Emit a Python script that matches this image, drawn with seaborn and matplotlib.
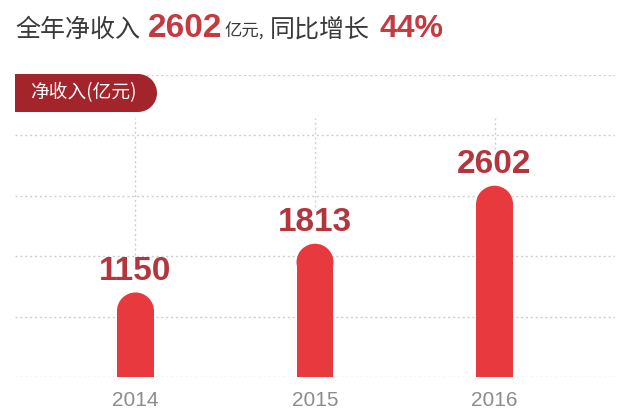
import numpy as np
import matplotlib
matplotlib.use("Agg")
import matplotlib.pyplot as plt
import seaborn as sns
from matplotlib.patches import Ellipse, Rectangle

years = ["2014", "2015", "2016"]
revenue = [1150, 1813, 2602]

bar_red = "#e8393e"
label_red = "#b3363f"
title_red = "#c43a40"
box_red = "#a3242a"

sns.set_theme(style="white")
plt.rcParams["font.family"] = ["Liberation Sans", "Noto Sans CJK SC", "DejaVu Sans"]
cjk = ["Noto Sans CJK SC", "DejaVu Sans"]

W, H = 626, 419
fig = plt.figure(figsize=(W / 100, H / 100), dpi=100)
fig.patch.set_facecolor("white")

# axes: plot area in pixel terms
left, right, bottom, top = 15, 615, 377, 75
ax = fig.add_axes([left / W, 1 - bottom / H, (right - left) / W, (bottom - top) / H])

ymax = 4108
ax_h_px = bottom - top
sns.barplot(x=years, y=revenue, color=bar_red, saturation=1, width=0.206, ax=ax, zorder=3)
ax.set_ylim(0, ymax)
ax.set_xlim(-0.671, 2.671)

# rounded tops on the bars
r_px = 0.206 * 179.5 / 2
r_y = r_px * ymax / ax_h_px
for p in ax.patches[:]:
    x, w, h = p.get_x(), p.get_width(), p.get_height()
    p.set_height(h - r_y)
    p.set_linewidth(0)
    ax.add_patch(Ellipse((x + w / 2, h - r_y), w, 2 * r_y, color=bar_red, lw=0, zorder=3))

# dotted grid
ax.set_yticks(np.linspace(0, ymax, 6))
ax.set_yticklabels([])
ax.yaxis.grid(True, color="#cfcfcf", linestyle=(0, (1.5, 2)), lw=1, zorder=0)
ax.grid(axis="x", visible=False)
for s in ax.spines.values():
    s.set_visible(False)
ax.set_facecolor("none")

# dotted vertical guides from the label box level down to the value labels
guide_top = (bottom - 118) * ymax / ax_h_px
label_top = [v + 37 * ymax / ax_h_px for v in revenue]
ax.vlines(range(len(years)), label_top, guide_top, color="#cfcfcf",
          linestyle=(0, (1.5, 2)), lw=1, zorder=1)

for i, v in enumerate(revenue):
    ax.annotate(str(v), (i, v), xytext=(0, 9), textcoords="offset points",
                ha="center", va="baseline", fontsize=24, fontweight="bold",
                color=label_red, zorder=5)

ax.tick_params(axis="x", length=0, pad=10, labelsize=15, labelcolor="#8c8c8c")
ax.tick_params(axis="y", length=0)
ax.set_xlabel("")
ax.set_ylabel("")

# title with mixed styling
def ftext(xpx, s, size, color, weight="normal", family=None):
    fig.text(xpx / W, 1 - 37 / H, s, fontsize=size, color=color, fontweight=weight,
             ha="left", va="baseline", family=family or cjk)

ftext(15, "全年净收入", 18, "#3a3a3a")
ftext(148, "2602", 24, title_red, "bold", ["Liberation Sans"])
ftext(225, "亿元,", 12.5, "#3a3a3a")
ftext(270, "同比增长", 18, "#3a3a3a")
ftext(380, "44%", 23, title_red, "bold", ["Liberation Sans"])

# label box top-left
bx0, bx1, by0, by1 = 15, 138, 74, 112
rad = (by1 - by0) / 2
fig.patches.append(Rectangle((bx0 / W, 1 - by1 / H), (bx1 - bx0) / W, (by1 - by0) / H,
                             transform=fig.transFigure, color=box_red, lw=0, zorder=4))
fig.patches.append(Ellipse((bx1 / W, 1 - (by0 + rad) / H), 2 * rad / W, 2 * rad / H,
                           transform=fig.transFigure, color=box_red, lw=0, zorder=4))
fig.text(30 / W, 1 - (by0 + rad) / H, "净收入(亿元)", fontsize=13.5, color="white",
         ha="left", va="center", family=cjk, zorder=5)

fig.savefig("out.png", dpi=100)
